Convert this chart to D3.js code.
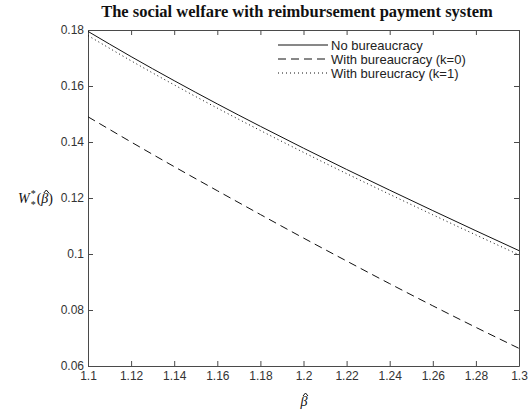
<!DOCTYPE html>
<html>
<head>
<meta charset="utf-8">
<script src="https://cdn.jsdelivr.net/npm/d3@7"></script>
<style>
  html, body { margin: 0; padding: 0; background: #fff; }
  svg { display: block; }
</style>
</head>
<body>
<div id="chart"></div>
<script>
// beta-hat grid and welfare values for the three regimes
const beta = [1.10, 1.12, 1.14, 1.16, 1.18, 1.20, 1.22, 1.24, 1.26, 1.28, 1.30];
const noBureaucracy = [0.1795, 0.1705, 0.1619, 0.1536, 0.1456, 0.1378, 0.1302, 0.1228, 0.1155, 0.1083, 0.1012];
const bureaucracyK0 = [0.1490, 0.1400, 0.1312, 0.1226, 0.1141, 0.1057, 0.0975, 0.0894, 0.0815, 0.0738, 0.0663];
const bureaucracyK1 = [0.1780, 0.1690, 0.1604, 0.1521, 0.1441, 0.1363, 0.1287, 0.1213, 0.1140, 0.1068, 0.0997];

const xTicks = [1.1, 1.12, 1.14, 1.16, 1.18, 1.2, 1.22, 1.24, 1.26, 1.28, 1.3];
const yTicks = [0.06, 0.08, 0.1, 0.12, 0.14, 0.16, 0.18];

const seriesNames = ["No bureaucracy", "With bureaucracy (k=0)", "With bureucracy (k=1)"];
const seriesValues = [noBureaucracy, bureaucracyK0, bureaucracyK1];
const seriesDash = [null, "8,5", "1,3"];

const W = 530, H = 413;
const m = { left: 88, right: 11, top: 30, bottom: 47 };

const svg = d3.select("#chart").append("svg")
  .attr("width", W).attr("height", H);

const x = d3.scaleLinear().domain([1.1, 1.3]).range([m.left, W - m.right]);
const y = d3.scaleLinear().domain([0.06, 0.18]).range([H - m.bottom, m.top]);

const axisColor = "#4a4a4a";
const tickFont = "Liberation Sans, Arial, sans-serif";
const serif = "Liberation Serif, Times New Roman, serif";
const fmt = d => String(+d.toFixed(2));

// Inward ticks on all four sides (boxed axes)
function styleAxis(g) {
  g.select(".domain").attr("stroke", axisColor);
  g.selectAll(".tick line").attr("stroke", axisColor);
  g.selectAll(".tick text").attr("fill", "#333").attr("font-family", tickFont).attr("font-size", 12);
}

svg.append("g").attr("transform", `translate(0,${y(0.06)})`)
  .call(d3.axisBottom(x).tickValues(xTicks).tickFormat(fmt).tickSizeInner(-5).tickSizeOuter(0).tickPadding(5))
  .call(styleAxis);
svg.append("g").attr("transform", `translate(0,${y(0.18)})`)
  .call(d3.axisTop(x).tickValues(xTicks).tickFormat("").tickSizeInner(-5).tickSizeOuter(0))
  .call(styleAxis);
svg.append("g").attr("transform", `translate(${x(1.1)},0)`)
  .call(d3.axisLeft(y).tickValues(yTicks).tickFormat(fmt).tickSizeInner(-5).tickSizeOuter(0).tickPadding(4))
  .call(styleAxis);
svg.append("g").attr("transform", `translate(${x(1.3)},0)`)
  .call(d3.axisRight(y).tickValues(yTicks).tickFormat("").tickSizeInner(-5).tickSizeOuter(0))
  .call(styleAxis);

// Curves
const line = d3.line()
  .x((d, i) => x(beta[i]))
  .y(d => y(d))
  .curve(d3.curveMonotoneX);

seriesValues.forEach((vals, i) => {
  svg.append("path")
    .datum(vals)
    .attr("d", line)
    .attr("fill", "none")
    .attr("stroke", "#111")
    .attr("stroke-width", 1)
    .attr("stroke-dasharray", seriesDash[i]);
});

// Legend
const legend = svg.append("g").attr("transform", "translate(278,45)");
seriesNames.forEach((name, i) => {
  const row = legend.append("g").attr("transform", `translate(0,${i * 14})`);
  row.append("line").attr("x1", 0).attr("x2", 50).attr("y1", 0).attr("y2", 0)
    .attr("stroke", "#111").attr("stroke-width", 1).attr("stroke-dasharray", seriesDash[i]);
  row.append("text").attr("x", 53).attr("y", 4.5)
    .attr("font-family", tickFont).attr("font-size", 13).attr("fill", "#222")
    .text(name);
});

// Title
svg.append("text")
  .attr("x", 297).attr("y", 17)
  .attr("text-anchor", "middle")
  .attr("font-family", serif)
  .attr("font-weight", "bold")
  .attr("font-size", 16.5)
  .attr("fill", "#111")
  .text("The social welfare with reimbursement payment system");

// Small circumflex accent drawn as a stroke above a glyph
function hat(cx, top) {
  svg.append("path")
    .attr("d", `M${cx - 2.5},${top + 3}L${cx},${top}L${cx + 2.5},${top + 3}`)
    .attr("fill", "none").attr("stroke", "#111").attr("stroke-width", 1);
}

// y-axis label W*_*(β̂)
const yl = svg.append("text")
  .attr("x", 18).attr("y", 203)
  .attr("font-family", serif).attr("font-size", 14).attr("fill", "#111");
yl.append("tspan").attr("font-style", "italic").text("W");
yl.append("tspan").attr("font-size", 10).attr("dx", 1).attr("dy", -6).text("*");
yl.append("tspan").attr("font-size", 10).attr("dx", -5).attr("dy", 11).text("*");
yl.append("tspan").attr("dx", 1).attr("dy", -5).text("(");
yl.append("tspan").attr("font-style", "italic").text("β");
yl.append("tspan").text(")");
{
  const ext = yl.node().getExtentOfChar(4); // the beta follows "W", "*", "*", "("
  hat(ext.x + ext.width / 2 + 1.5, ext.y - 1);
}

// x-axis label β̂
const xl = svg.append("text")
  .attr("x", 304).attr("y", 406)
  .attr("text-anchor", "middle")
  .attr("font-family", serif).attr("font-style", "italic").attr("font-size", 14).attr("fill", "#111")
  .text("β");
{
  const ext = xl.node().getExtentOfChar(0);
  hat(ext.x + ext.width / 2 + 1.5, ext.y - 1);
}
</script>
</body>
</html>
